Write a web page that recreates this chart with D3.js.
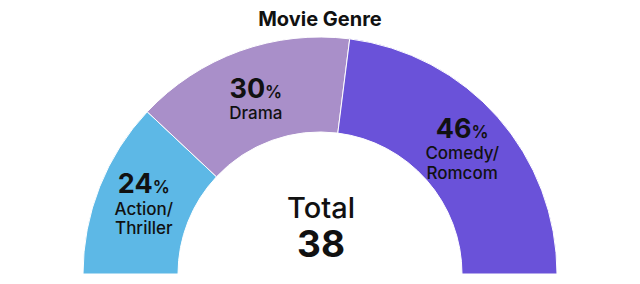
<!DOCTYPE html>
<html>
<head>
<meta charset="utf-8">
<script src="https://cdn.jsdelivr.net/npm/d3@7"></script>
<style>
  body { margin: 0; background: #fff; }
  text { font-family: Inter, "Liberation Sans", sans-serif; fill: #111; }
</style>
</head>
<body>
<div id="chart"></div>
<script>
// data
var genres = ["Action/Thriller", "Drama", "Comedy/Romcom"];
var labelLines = [["Action/", "Thriller"], ["Drama"], ["Comedy/", "Romcom"]];
var shares = [24, 30, 46];
var colors = ["#5db8e6", "#a98fc9", "#6a52d9"];
var total = 38;

var width = 640, height = 284;
var cx = 320, cy = 274;
var outerR = 237, innerR = 142;

var svg = d3.select("#chart")
  .append("svg")
  .attr("width", width)
  .attr("height", height);

// title
svg.append("text")
  .attr("x", cx)
  .attr("y", 26)
  .attr("text-anchor", "middle")
  .style("font-size", "20px")
  .style("font-weight", 700)
  .text("Movie Genre");

var slices = genres.map(function(g, i) {
  return {genre: g, value: shares[i], lines: labelLines[i], color: colors[i]};
});

var pie = d3.pie()
  .sort(null)
  .value(d => d.value)
  .startAngle(-Math.PI / 2)
  .endAngle(Math.PI / 2);

var arc = d3.arc()
  .innerRadius(innerR)
  .outerRadius(outerR);

const g = svg.append("g")
  .attr("transform", `translate(${cx},${cy})`);

g.selectAll("path")
  .data(pie(slices))
  .join("path")
  .attr("d", arc)
  .attr("fill", d => d.data.color)
  .attr("stroke", "#fff")
  .attr("stroke-width", 1);

// slice labels, centred on each arc's centroid
var labels = g.selectAll("g.lbl")
  .data(pie(slices))
  .join("g")
  .attr("class", "lbl")
  .attr("transform", function(d) {
    var c = arc.centroid(d);
    return `translate(${c[0]},${c[1]})`;
  });

labels.each(function(d) {
  var n = d.data.lines.length;
  var top = n == 1 ? 2 : -11;
  var t = d3.select(this).append("text")
    .attr("text-anchor", "middle")
    .attr("y", top);
  t.append("tspan")
    .style("font-size", "27px")
    .style("font-weight", 700)
    .text(d.data.value);
  t.append("tspan")
    .style("font-size", "17px")
    .style("font-weight", 600)
    .text("%");

  d.data.lines.forEach(function(line, i) {
    d3.select(this).append("text")
      .attr("text-anchor", "middle")
      .attr("y", top + 21.5 + i * 19.5)
      .style("font-size", "17px")
      .style("font-weight", 500)
      .text(line);
  }, this);
});

// total in the middle
svg.append("text")
  .attr("x", cx + 1)
  .attr("y", 218)
  .attr("text-anchor", "middle")
  .style("font-size", "29px")
  .style("font-weight", 500)
  .text("Total");

svg.append("text")
  .attr("x", cx + 1)
  .attr("y", 257)
  .attr("text-anchor", "middle")
  .style("font-size", "37px")
  .style("font-weight", 700)
  .text(total);
</script>
</body>
</html>
